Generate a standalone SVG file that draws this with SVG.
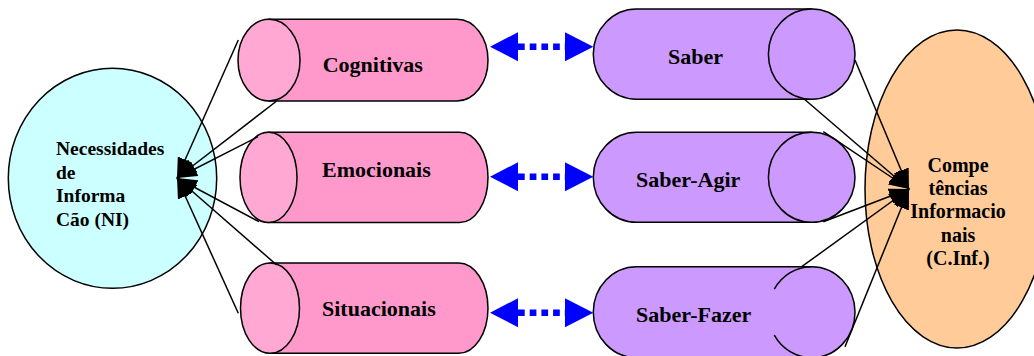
<svg xmlns="http://www.w3.org/2000/svg" width="1034" height="356" viewBox="0 0 1034 356">
<style>
.lbl{font-family:"Liberation Serif","Times New Roman",serif;font-weight:bold;font-size:22px;fill:#000}
.sm{font-family:"Liberation Serif","Times New Roman",serif;font-weight:bold;font-size:19.5px;fill:#000}
.pk{fill:#FF99CC;stroke:#000;stroke-width:1.5}
.pkc{fill:#FFA8D3;stroke:#000;stroke-width:1.5}
.pu{fill:#CC99FF;stroke:#000;stroke-width:1.5}
.con{stroke:#000;stroke-width:1.5;fill:none}
.dot{stroke:#0000FF;stroke-width:6.5;stroke-dasharray:6.7 5;fill:none}
.bh{fill:#0000FF}
</style>
<defs>
<marker id="ah" viewBox="0 0 20 16" refX="20" refY="8" markerWidth="20" markerHeight="16" markerUnits="userSpaceOnUse" orient="auto">
<path d="M0,0 L20,8 L0,16 Z" fill="#000"/>
</marker>
</defs>

<g id="ni">
<ellipse cx="112.5" cy="178.3" rx="104.2" ry="110" fill="#CCFFFF" stroke="#000" stroke-width="1.5"/>
<text class="sm" x="56" y="155">Necessidades</text>
<text class="sm" x="56" y="178.5">de</text>
<text class="sm" x="56" y="202">Informa</text>
<text class="sm" x="56" y="225.5">Cão (NI)</text>
</g>

<g id="cinf">
<ellipse cx="957" cy="189" rx="92" ry="159" fill="#FFCC99" stroke="#000" stroke-width="1.5"/>
<text class="sm" style="font-size:20px" text-anchor="middle" x="958" y="172">Compe</text>
<text class="sm" style="font-size:20px" text-anchor="middle" x="958" y="195">tências</text>
<text class="sm" style="font-size:20px" text-anchor="middle" x="958" y="218">Informacio</text>
<text class="sm" style="font-size:20px" text-anchor="middle" x="958" y="241.5">nais</text>
<text class="sm" style="font-size:20px" text-anchor="middle" x="958" y="264.5">(C.Inf.)</text>
</g>

<g id="cognitivas">
<path class="pk" d="M269,19.3 L457,19.3 A31,40.85 0 0 1 457,101 L269,101 Z"/>
<ellipse class="pkc" cx="269" cy="60.15" rx="31" ry="40.85"/>
<text class="lbl" x="322.7" y="71.5">Cognitivas</text>
</g>

<g id="emocionais">
<path class="pk" d="M268.5,132.3 L459.5,132.3 A28.5,45.1 0 0 1 459.5,222.5 L268.5,222.5 Z"/>
<ellipse class="pkc" cx="268.5" cy="177.4" rx="28.5" ry="45.1"/>
<text class="lbl" x="322" y="177">Emocionais</text>
</g>

<g id="situacionais">
<path class="pk" d="M270,263 L458.5,263 A29.5,45.15 0 0 1 458.5,353.3 L270,353.3 Z"/>
<ellipse class="pkc" cx="270" cy="308.15" rx="29.5" ry="45.15"/>
<text class="lbl" x="322" y="316">Situacionais</text>
</g>

<g id="saber">
<path class="pu" d="M811.7,9 L636.6,9 A43.3,45.15 0 0 0 636.6,99.3 L811.7,99.3 Z"/>
<ellipse class="pu" cx="811.7" cy="54.15" rx="43.3" ry="45.15"/>
<text class="lbl" x="668" y="63.5">Saber</text>
</g>

<g id="saber-agir">
<path class="pu" d="M811.7,132.3 L636.6,132.3 A43.3,45 0 0 0 636.6,222.3 L811.7,222.3 Z"/>
<ellipse class="pu" cx="811.7" cy="177.3" rx="43.3" ry="45"/>
<text class="lbl" x="636" y="187">Saber-Agir</text>
</g>

<g id="saber-fazer">
<path class="pu" d="M811.7,266.7 L636.6,266.7 A43.3,45.5 0 0 0 636.6,357.7 L811.7,357.7 A43.3,45.5 0 0 0 811.7,266.7 Z"/>
<path class="con" d="M811.7,266.7 A43.3,45.5 0 0 0 774.3,289.2"/>
<path class="con" d="M774.3,335.2 A43.3,45.5 0 0 0 811.7,357.7"/>
<text class="lbl" x="636" y="322">Saber-Fazer</text>
</g>

<g id="connectors">
<g id="blue-arrows">
<path class="dot" d="M518,46.7 H565"/>
<path class="bh" d="M490,46.7 L518,32.2 L518,61.2 Z"/>
<path class="bh" d="M593.3,46.7 L565,32.2 L565,61.2 Z"/>
<path class="dot" d="M518,176.7 H565"/>
<path class="bh" d="M490,176.7 L518,162.2 L518,191.2 Z"/>
<path class="bh" d="M593.3,176.7 L565,162.2 L565,191.2 Z"/>
<path class="dot" d="M518,312.7 H565"/>
<path class="bh" d="M490,312.7 L518,298.2 L518,327.2 Z"/>
<path class="bh" d="M593.3,312.7 L565,298.2 L565,327.2 Z"/>
</g>
<g id="to-ni">
<line class="con" x1="238.3" y1="40" x2="177" y2="178" marker-end="url(#ah)"/>
<line class="con" x1="276.7" y1="101" x2="177" y2="178" marker-end="url(#ah)"/>
<line class="con" x1="258" y1="136.7" x2="177" y2="178" marker-end="url(#ah)"/>
<line class="con" x1="259" y1="221.7" x2="177" y2="178" marker-end="url(#ah)"/>
<line class="con" x1="276.7" y1="265" x2="177" y2="178" marker-end="url(#ah)"/>
<line class="con" x1="238.3" y1="313.3" x2="177" y2="178" marker-end="url(#ah)"/>
</g>
<g id="to-cinf">
<line class="con" x1="855" y1="60" x2="909" y2="189" marker-end="url(#ah)"/>
<line class="con" x1="803.3" y1="98.3" x2="909" y2="189" marker-end="url(#ah)"/>
<line class="con" x1="823.3" y1="131.7" x2="909" y2="189" marker-end="url(#ah)"/>
<line class="con" x1="823.3" y1="221.7" x2="909" y2="189" marker-end="url(#ah)"/>
<line class="con" x1="801.7" y1="266.7" x2="909" y2="189" marker-end="url(#ah)"/>
<line class="con" x1="845" y1="346.7" x2="909" y2="189" marker-end="url(#ah)"/>
</g>
</g>
</svg>
